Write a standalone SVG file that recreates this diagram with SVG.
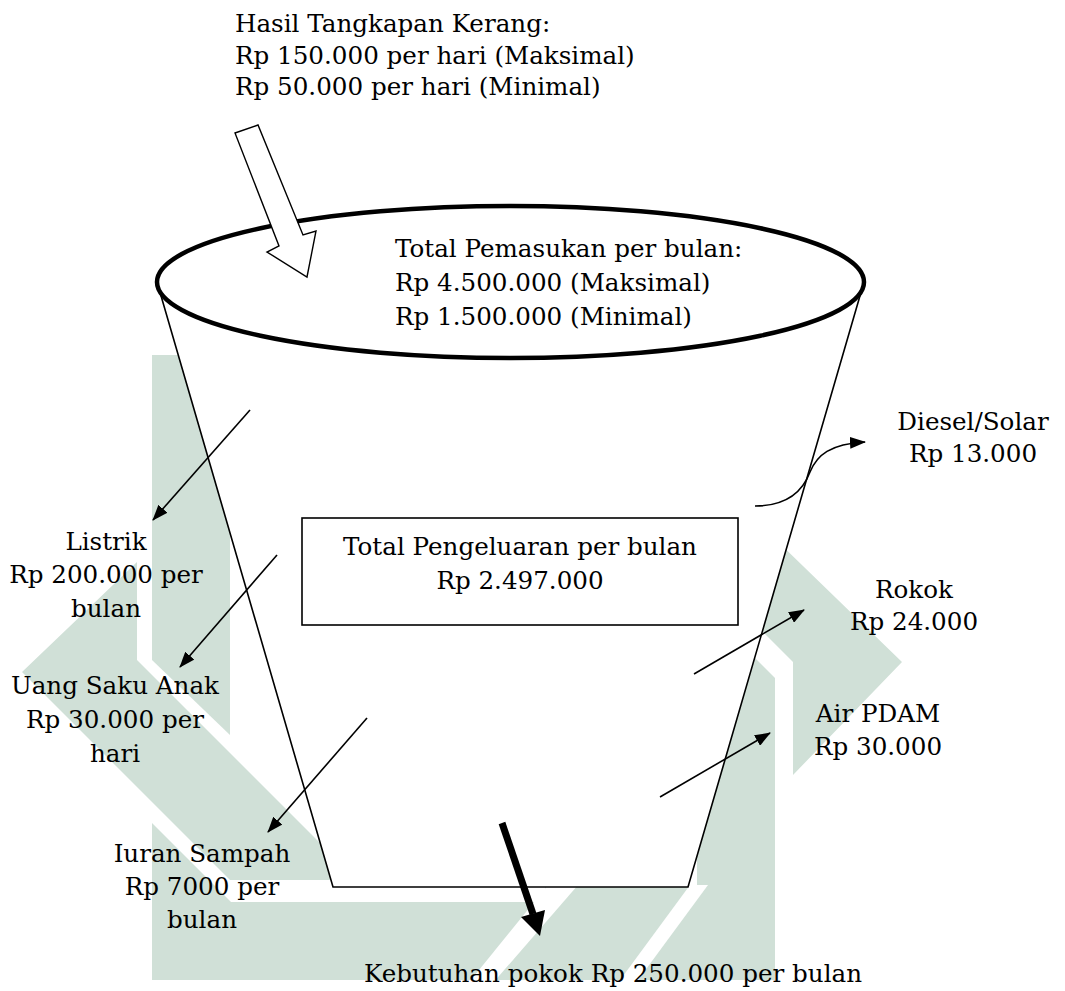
<svg xmlns="http://www.w3.org/2000/svg" width="1065" height="991" viewBox="0 0 1065 991">
<style>
.t{font-family:"DejaVu Serif","Liberation Serif",serif;font-size:24.6px;fill:#000}
.m{text-anchor:middle}
.wm{fill:#d0e0d7}
.wg{fill:#fff}
.ln{stroke:#000;stroke-width:1.6;fill:none}
</style>
<defs>
<marker id="ah" markerUnits="userSpaceOnUse" markerWidth="16" markerHeight="12" refX="15" refY="6" orient="auto">
<path d="M0,0 L16,6 L0,12 z" fill="#000"/>
</marker>
</defs>
<rect x="0" y="0" width="1065" height="991" fill="#fff"/>
<g id="watermark">
<polygon class="wm" points="152,355 230,355 230,735 152,660"/>
<polygon class="wm" points="137,562 22,672 230,880 400,880 340,863 137,660"/>
<polygon class="wm" points="152,823 231,902 775,902 775,980 152,980"/>
<polygon class="wm" points="545,885 775,885 775,902 545,902"/>
<polygon class="wm" points="697,600 775,678 775,980 697,980"/>
<polygon class="wm" points="740,505 902,662 793,775 793,662 740,609"/>
<polygon class="wg" points="462,991 486,991 578,885 548,885"/>
<polygon class="wg" points="612,991 630,991 708,885 690,885"/>
</g>
<g id="bucket">
<path d="M157,282 L333,887 L688,887 L864,282 Z" fill="#fff" stroke="#000" stroke-width="1.6"/>
<ellipse cx="510.5" cy="282" rx="353.5" ry="76" fill="#fff" stroke="#000" stroke-width="4.5"/>
</g>
<g id="income-arrow">
<polygon points="235,133 258,125 303,235 316,231 307,277 267,252 279,246" fill="#fff" stroke="#000" stroke-width="1.4" stroke-linejoin="miter"/>
</g>
<g id="income-label">
<text class="t" x="235" y="32">Hasil Tangkapan Kerang:</text>
<text class="t" x="235" y="64">Rp 150.000 per hari (Maksimal)</text>
<text class="t" x="235" y="95">Rp 50.000 per hari (Minimal)</text>
</g>
<g id="total-income">
<text class="t" x="395" y="257">Total Pemasukan per bulan:</text>
<text class="t" x="395" y="291">Rp 4.500.000 (Maksimal)</text>
<text class="t" x="395" y="325">Rp 1.500.000 (Minimal)</text>
</g>
<g id="total-expense">
<rect x="302" y="518" width="436" height="107" fill="#fff" stroke="#000" stroke-width="1.6"/>
<text class="t m" x="520" y="555">Total Pengeluaran per bulan</text>
<text class="t m" x="520" y="589">Rp 2.497.000</text>
</g>
<g id="listrik">
<text class="t m" x="106" y="550">Listrik</text>
<text class="t m" x="106" y="583">Rp 200.000 per</text>
<text class="t m" x="106" y="617">bulan</text>
</g>
<g id="uang-saku">
<text class="t m" x="115" y="694">Uang Saku Anak</text>
<text class="t m" x="115" y="728">Rp 30.000 per</text>
<text class="t m" x="115" y="762">hari</text>
</g>
<g id="iuran-sampah">
<text class="t m" x="202" y="862">Iuran Sampah</text>
<text class="t m" x="202" y="895">Rp 7000 per</text>
<text class="t m" x="202" y="928">bulan</text>
</g>
<g id="diesel">
<text class="t m" x="973" y="430">Diesel/Solar</text>
<text class="t m" x="973" y="462">Rp 13.000</text>
</g>
<g id="rokok">
<text class="t m" x="914" y="598">Rokok</text>
<text class="t m" x="914" y="630">Rp 24.000</text>
</g>
<g id="air-pdam">
<text class="t m" x="878" y="722">Air PDAM</text>
<text class="t m" x="878" y="755">Rp 30.000</text>
</g>
<g id="kebutuhan">
<text class="t m" x="613" y="982">Kebutuhan pokok Rp 250.000 per bulan</text>
</g>
<g id="connectors">
<line class="ln" x1="250" y1="410" x2="153" y2="520" marker-end="url(#ah)"/>
<line class="ln" x1="277" y1="555" x2="180" y2="667" marker-end="url(#ah)"/>
<line class="ln" x1="367" y1="718" x2="268" y2="832" marker-end="url(#ah)"/>
<path class="ln" d="M755,506 C790,506 804,488 810,472 C817,455 830,444 865,442" marker-end="url(#ah)"/>
<line class="ln" x1="694" y1="674" x2="804" y2="610" marker-end="url(#ah)"/>
<line class="ln" x1="660" y1="797" x2="770" y2="733" marker-end="url(#ah)"/>
<line x1="502" y1="823" x2="533" y2="914" stroke="#000" stroke-width="7"/>
<polygon points="540,936 521,917 545,910" fill="#000"/>
</g>
</svg>
